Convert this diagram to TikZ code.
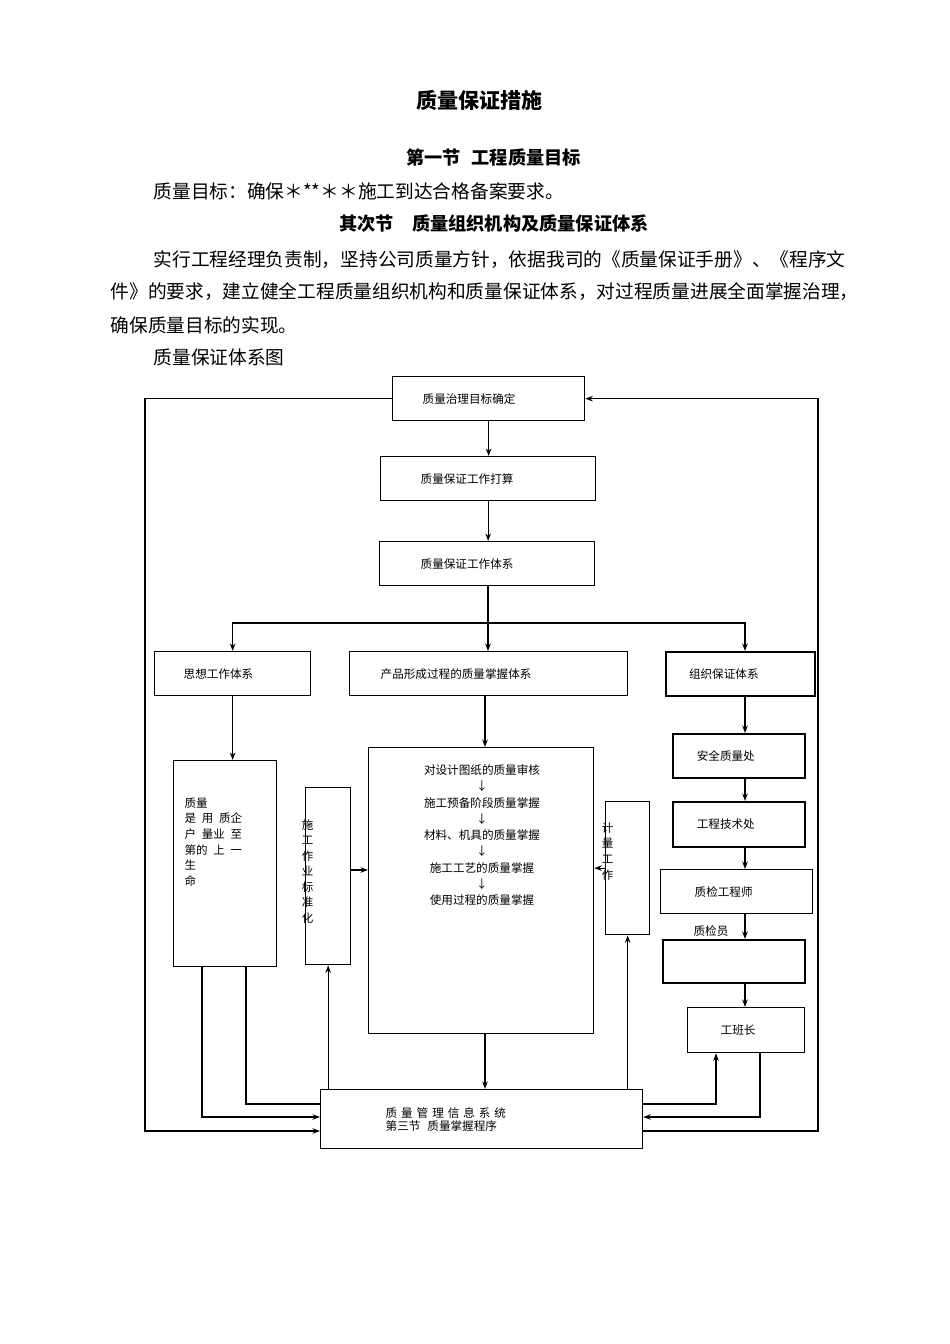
\documentclass[tikz,border=0pt]{standalone}
\usepackage{fontspec}
\setmainfont{Noto Sans CJK SC}
\usetikzlibrary{arrows.meta}
\newcommand{\gp}{\hspace{.34em}}

\begin{document}
\begin{tikzpicture}[x=1pt, y=-1pt, >={Stealth[length=7.5pt,width=5.5pt]}, line width=1.3pt]
	\tikzstyle{box} = [draw, line width=1.3pt, inner ysep=0pt, minimum height=44pt, align=left, anchor=north west, font=\fontsize{11.6}{13}\selectfont]
	\tikzstyle{frame} = [draw, line width=1.3pt, inner sep=0pt, anchor=north west]
	\tikzstyle{small} = [inner sep=0pt, font=\fontsize{11.6}{14}\selectfont]
	\tikzstyle{body} = [anchor=west, inner sep=0pt, font=\fontsize{18.7}{22}\selectfont]
	\tikzstyle{head} = [inner sep=0pt, font=\fontsize{18.2}{22}\selectfont\bfseries]

	\useasboundingbox (0,0) rectangle (950,1344);
	\fill[white] (0,0) rectangle (950,1344);

	% text above the chart
	\node[inner sep=0pt, font=\fontsize{21}{24}\selectfont\bfseries] (title) at (479.5,100) {质量保证措施};
	\node[head] (sec1) at (493.5,157) {第一节\hspace{.6em}工程质量目标};
	\node[body] (target) at (153,191) {质量目标：确保＊**＊＊施工到达合格备案要求。};
	\node[head] (sec2) at (494,224) {其次节　质量组织机构及质量保证体系};
	\node[body] (para1) at (153,260) {实行工程经理负责制，坚持公司质量方针，依据我司的《质量保证手册》、《程序文};
	\node[body] (para2) at (110,292) {件》的要求，建立健全工程质量组织机构和质量保证体系，对过程质量进展全面掌握治理，};
	\node[body] (para3) at (110,325) {确保质量目标的实现。};
	\node[body] (caption) at (153,357) {质量保证体系图};

	% boxes
	\node[box, text width=132pt, inner xsep=30pt] (goal) at (392,376) {质量治理目标确定};
	\node[box, text width=135pt, inner xsep=40pt] (plan) at (380,456) {质量保证工作打算};
	\node[box, text width=133pt, inner xsep=41pt] (sys) at (379,541) {质量保证工作体系};
	\node[box, text width=98pt, inner xsep=29pt] (think) at (154,651) {思想工作体系};
	\node[box, text width=216pt, inner xsep=31pt] (prod) at (349,651) {产品形成过程的质量掌握体系};
	\node[box, line width=2pt, text width=103pt, inner xsep=23pt] (org) at (665,651) {组织保证体系};

	\node[frame, minimum width=103pt, minimum height=206pt] (life) at (173,760) {};
	\node[frame, minimum width=45pt, minimum height=177pt] (std) at (305,787) {};
	\node[frame, minimum width=225pt, minimum height=286pt] (big) at (368,747) {};
	\node[frame, minimum width=44pt, minimum height=133pt] (meas) at (605,801) {};

	\node[small, anchor=north west, align=left, font=\fontsize{11.5}{15.6}\selectfont] (lifetxt) at (184,797)
		{质量\\是\enspace 用\enspace 质企\\户\enspace 量业\enspace 至\\第的\enspace 上\enspace 一\\生\\命};
	\node[small, anchor=north, align=center, font=\fontsize{11.5}{15.5}\selectfont] (stdtxt) at (307.5,819)
		{施\\工\\作\\业\\标\\准\\化};
	\node[small, anchor=north, align=center, font=\fontsize{11.6}{16.3}\selectfont] (bigtxt) at (482,764)
		{对设计图纸的质量审核\\↓\\施工预备阶段质量掌握\\↓\\材料、机具的质量掌握\\↓\\施工工艺的质量掌握\\↓\\使用过程的质量掌握};
	\node[small, anchor=north, align=center, font=\fontsize{11.5}{15.7}\selectfont] (meastxt) at (607.5,822)
		{计\\量\\工\\作};

	\node[box, line width=1.6pt, text width=84pt, inner xsep=24pt] (safe) at (672,733) {安全质量处};
	\node[box, line width=1.6pt, text width=84pt, inner xsep=24pt, minimum height=45pt] (tech) at (672,801) {工程技术处};
	\node[box, text width=84pt, inner xsep=34pt] (qe) at (660,869) {质检工程师};
	\node[frame, line width=1.6pt, minimum width=142pt, minimum height=43pt] (qi) at (662,939) {};
	\node[small] (qitxt) at (711,931) {质检员};
	\node[box, text width=51pt, inner xsep=33pt, minimum height=45pt] (team) at (687,1007) {工班长};
	\node[box, text width=192pt, inner xsep=65pt, minimum height=59pt] (info) at (320,1089)
		{质\gp 量\gp 管\gp 理\gp 信\gp 息\gp 系\gp 统\\第三节\hspace{.6em}质量掌握程序};

	% helper points
	\coordinate (split) at (488,623);
	\coordinate (rcol) at (745,0);
	\coordinate (bigdown) at (485,0);
	\coordinate (midrow) at (0,870);
	\coordinate (l1) at (202,1117);
	\coordinate (l2) at (246,1104);
	\coordinate (r1) at (716,1104);
	\coordinate (r2) at (760,1117);
	\coordinate (lo) at (145,1131);
	\coordinate (ro) at (818,1131);

	% connectors
	\path[->]
	(goal.south) edge (goal.south |- plan.north)
	(plan.south) edge (plan.south |- sys.north)
	(split) edge (split |- prod.north)
	(think.south) edge (think.south |- life.north)
	(prod.south -| bigdown) edge (bigdown |- big.north)
	(org.south -| rcol) edge (rcol |- safe.north)
	(safe.south -| rcol) edge (rcol |- tech.north)
	(tech.south -| rcol) edge (rcol |- qe.north)
	(qe.south -| rcol) edge (rcol |- qi.north)
	(qi.south -| rcol) edge (rcol |- team.north)
	(std.east |- midrow) edge (big.west |- midrow)
	(meas.west) edge (meas.west -| big.east)
	(big.south -| bigdown) edge (bigdown |- info.north)
	(info.north -| std.south) edge (std.south)
	(info.north -| meas.south) edge (meas.south)
	;
	\draw (split |- sys.south) -- (split);
	\draw[->] (split) -| (think.north);
	\draw[->] (split) -| (rcol |- org.north);
	\draw[->] (life.south -| l1) |- (info.west |- l1);
	\draw (life.south -| l2) |- (info.west |- l2);
	\draw[->] (goal.west) -| (lo) -- (info.west |- lo);
	\draw[->] (info.east |- r1) -| (team.south -| r1);
	\draw[->] (team.south -| r2) |- (info.east |- r2);
	\draw[->] (info.east |- ro) -- (ro) |- (goal.east);
\end{tikzpicture}
\end{document}
